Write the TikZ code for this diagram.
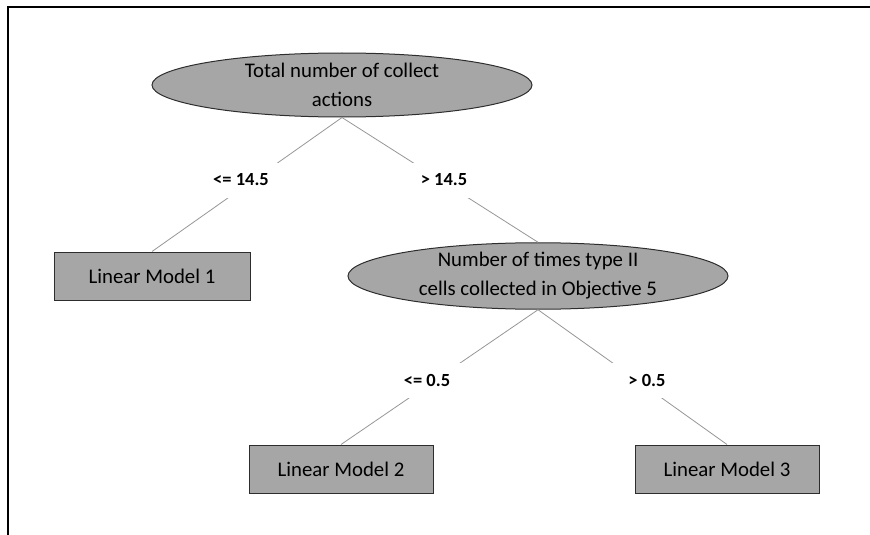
\documentclass[tikz,border=0pt]{standalone}
\usepackage{fontspec}
\setmainfont{Carlito}
\usetikzlibrary{shapes.geometric}
\definecolor{nodegray}{RGB}{166,166,166}
\definecolor{edgegray}{RGB}{150,150,150}
\definecolor{rimgray}{RGB}{45,45,45}
\tikzset{
  split/.style={ellipse, draw=rimgray, line width=1pt, fill=nodegray,
    minimum width=380pt, minimum height=64pt, inner sep=0pt, align=center,
    font=\fontsize{20.8}{29}\selectfont},
  leaf/.style={rectangle, draw=rimgray, line width=1pt, fill=nodegray,
    minimum width=184pt, minimum height=48pt, inner sep=0pt,
    font=\fontsize{20.8}{24}\selectfont},
  cond/.style={fill=white, minimum width=88pt, minimum height=35pt, inner sep=0pt,
    font=\bfseries\fontsize{18.5}{22}\selectfont},
  branch/.style={draw=edgegray, line width=0.8pt}
}
\begin{document}
\begin{tikzpicture}[x=1pt, y=-1pt]
    \useasboundingbox (0,0) rectangle (870,535);
    % Frame
    \draw[line width=1.5pt] (870,7) -- (8,7) -- (8,535);
    % Splits
    \node[split] (root) at (342,85) {Total number of collect\\actions};
    \node[split] (obj) at (538,276) {Number of times type II\\cells collected in Objective 5};
    % Leaves
    \node[leaf, minimum width=196pt] (lm1) at (152,276) {Linear Model 1};
    \node[leaf] (lm2) at (341,469) {Linear Model 2};
    \node[leaf] (lm3) at (727,469) {Linear Model 3};
    % Branches
    \draw[branch] (root.south) -- (lm1.north);
    \draw[branch] (root.south) -- (obj.north);
    \draw[branch] (obj.south) -- (lm2.north);
    \draw[branch] (obj.south) -- (lm3.north);
    % Conditions
    \node[cond] (le1) at (241,180) {<= 14.5};
    \node[cond] (gt1) at (444,180) {> 14.5};
    \node[cond] (le2) at (427,380) {<= 0.5};
    \node[cond] (gt2) at (647,380) {> 0.5};
\end{tikzpicture}
\end{document}
